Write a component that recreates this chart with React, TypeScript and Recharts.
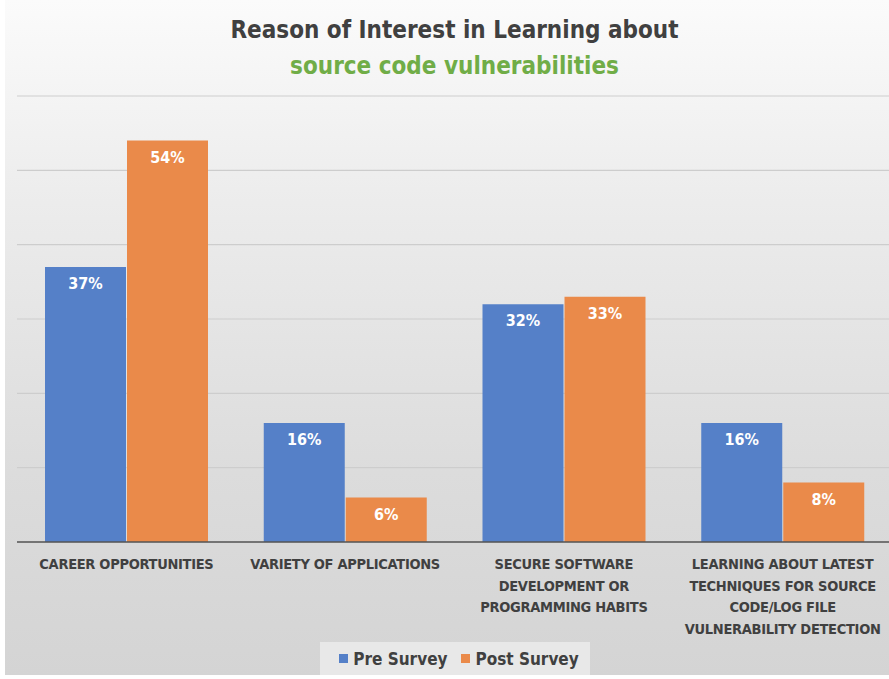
import { Bar, BarChart, CartesianGrid, LabelList, Legend, XAxis, YAxis } from 'recharts'

const categories = [
  'CAREER OPPORTUNITIES',
  'VARIETY OF APPLICATIONS',
  'SECURE SOFTWARE DEVELOPMENT OR PROGRAMMING HABITS',
  'LEARNING ABOUT LATEST TECHNIQUES FOR SOURCE CODE/LOG FILE VULNERABILITY DETECTION'
]
const categoryLines = [
  ['CAREER OPPORTUNITIES'],
  ['VARIETY OF APPLICATIONS'],
  ['SECURE SOFTWARE', 'DEVELOPMENT OR', 'PROGRAMMING HABITS'],
  ['LEARNING ABOUT LATEST', 'TECHNIQUES FOR SOURCE', 'CODE/LOG FILE', 'VULNERABILITY DETECTION']
]
const preSurvey = [37, 16, 32, 16]
const postSurvey = [54, 6, 33, 8]
const yTicks = [0, 10, 20, 30, 40, 50, 60]

const data = categories.map((name, i) => ({ name, pre: preSurvey[i], post: postSurvey[i] }))

const FONT = '"DejaVu Sans Condensed", "Open Sans", sans-serif'
const BLUE = '#5580c8'
const ORANGE = '#ea8a4a'

function CategoryTick({ x, y, payload }: any) {
  const idx = categories.indexOf(payload.value)
  const lines = categoryLines[idx] || [payload.value]
  return (
    <g transform={`translate(${x},${y})`}>
      {lines.map((line, i) => (
        <text
          key={i}
          x={0}
          y={27 + i * 21.5}
          textAnchor="middle"
          fill="#404040"
          fontSize={14.5}
          fontWeight="bold"
          fontFamily={FONT}
          letterSpacing={-0.3}
        >
          {line}
        </text>
      ))}
    </g>
  )
}

function LegendBox() {
  const item = (color: string, label: string, gap: number) => (
    <span style={{ display: 'inline-flex', alignItems: 'center', marginRight: gap, whiteSpace: 'nowrap' }}>
      <span style={{ width: 9, height: 9, background: color, display: 'inline-block', marginRight: 5 }} />
      <span>{label}</span>
    </span>
  )
  return (
    <div
      style={{
        height: 33,
        width: 270,
        background: '#e8e8e8',
        display: 'flex',
        alignItems: 'center',
        justifyContent: 'center',
        fontFamily: FONT,
        fontWeight: 'bold',
        fontSize: 17,
        color: '#404040',
        whiteSpace: 'nowrap',
        paddingLeft: 8,
        boxSizing: 'border-box'
      }}
    >
      {item(BLUE, 'Pre Survey', 14)}
      {item(ORANGE, 'Post Survey', 0)}
    </div>
  )
}

export default function App() {
  return (
    <div style={{ position: 'absolute', left: 0, top: 0, width: 889, height: 679, background: '#fff', overflow: 'hidden' }}>
      <div
        style={{
          position: 'absolute',
          left: 5,
          top: 0,
          width: 884,
          height: 675,
          background: 'linear-gradient(to bottom, #fbfbfb 0%, #ececec 30%, #dcdcdc 70%, #d4d4d4 100%)'
        }}
      />
      <div
        style={{
          position: 'absolute',
          left: 0,
          width: 909,
          top: 12,
          textAlign: 'center',
          fontFamily: FONT,
          fontWeight: 'bold',
          fontSize: 24,
          lineHeight: '36px',
          color: '#404040'
        }}
      >
        <div>Reason of Interest in Learning about</div>
        <div style={{ color: '#70ad47' }}>source code vulnerabilities</div>
      </div>
      <div style={{ position: 'absolute', left: 0, top: 0 }}>
        <BarChart
          width={895}
          height={679}
          data={data}
          margin={{ top: 96, right: 3, left: 17, bottom: 4 }}
          barCategoryGap={28}
          barGap={1}
        >
          <CartesianGrid vertical={false} stroke="#cdcdcd" strokeWidth={1.2} />
          <XAxis
            dataKey="name"
            interval={0}
            height={100}
            tickLine={false}
            tickSize={0}
            tickMargin={0}
            axisLine={{ stroke: '#555555', strokeWidth: 1.5 }}
            tick={<CategoryTick />}
          />
          <YAxis hide domain={[0, 60]} ticks={yTicks} />
          <Legend
            verticalAlign="bottom"
            height={33}
            wrapperStyle={{ left: 320, width: 270 }}
            content={() => <LegendBox />}
          />
          <Bar dataKey="pre" name="Pre Survey" fill={BLUE} isAnimationActive={false}>
            <LabelList
              dataKey="pre"
              position="insideTop"
              offset={11}
              formatter={(v: any) => `${v}%`}
              fill="#ffffff"
              fontSize={16}
              fontWeight="bold"
              fontFamily={FONT}
            />
          </Bar>
          <Bar dataKey="post" name="Post Survey" fill={ORANGE} isAnimationActive={false}>
            <LabelList
              dataKey="post"
              position="insideTop"
              offset={11}
              formatter={(v: any) => `${v}%`}
              fill="#ffffff"
              fontSize={16}
              fontWeight="bold"
              fontFamily={FONT}
            />
          </Bar>
        </BarChart>
      </div>
    </div>
  )
}
